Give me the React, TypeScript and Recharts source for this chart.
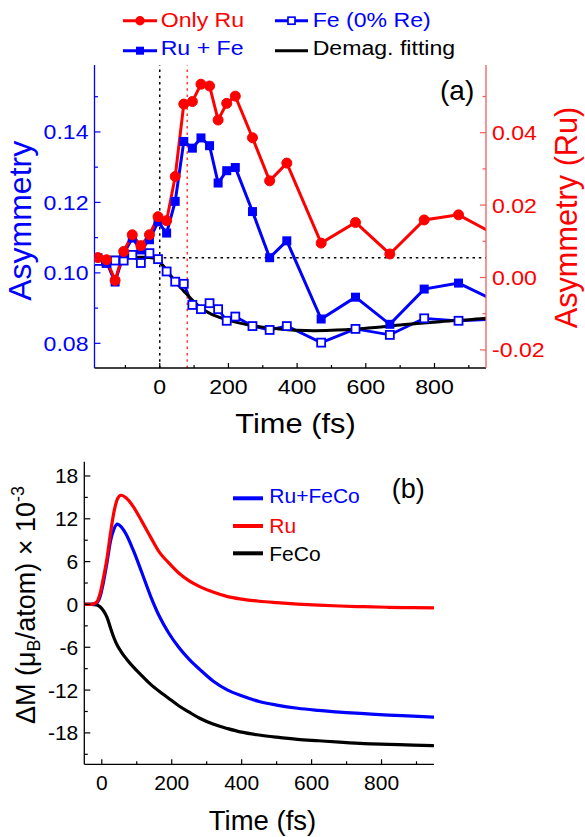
import React from "react";
import { LineChart, Line, XAxis, YAxis, ReferenceLine } from "recharts";

const FONT = "'Liberation Sans', Arial, Helvetica, sans-serif";
const BLUE = "#0000ff";
const RED = "#ff0000";
const PINK = "#f25c5c";

// ---- panel (a): measured asymmetry ----
const TIME_A = [-180, -155, -130, -105, -80, -55, -30, -5, 20, 45, 70, 95, 120, 145, 170, 195, 220, 270, 320, 370, 470, 570, 670, 770, 870, 970];
const ONLY_RU = [0.0055, 0.0049, -0.0008, 0.0072, 0.0118, 0.0088, 0.0118, 0.0168, 0.0157, 0.0279, 0.0479, 0.0486, 0.0534, 0.0529, 0.0435, 0.0481, 0.0501, 0.0386, 0.0267, 0.0316, 0.0095, 0.0152, 0.0065, 0.0159, 0.0173, 0.0122];
const RU_FE = [0.1043, 0.1031, 0.0974, 0.1054, 0.1099, 0.1065, 0.1094, 0.1145, 0.1113, 0.1203, 0.1373, 0.1354, 0.1383, 0.1361, 0.1255, 0.129, 0.1299, 0.1174, 0.1043, 0.1091, 0.0869, 0.0931, 0.0854, 0.0954, 0.0971, 0.0924];
const FE_0RE = [0.1034, 0.1028, 0.1035, 0.1035, 0.1051, 0.1028, 0.1056, 0.1039, 0.1004, 0.0975, 0.0969, 0.0909, 0.0897, 0.0914, 0.0897, 0.0864, 0.0876, 0.0849, 0.0838, 0.0849, 0.0802, 0.0841, 0.0824, 0.0871, 0.0864, 0.0868];

const FIT_TIME = [-190, -100, -40, -20, -10, 0, 10, 20, 30, 40, 50, 60, 70, 80, 90, 100, 115, 130, 150, 170, 200, 230, 260, 300, 350, 400, 450, 500, 550, 600, 650, 700, 750, 800, 850, 900, 950];
const FIT_ASYM = [0.1044, 0.1044, 0.1044, 0.1042, 0.1038, 0.1031, 0.102, 0.1008, 0.0995, 0.0982, 0.097, 0.0959, 0.0948, 0.0938, 0.0928, 0.0918, 0.0905, 0.0894, 0.0883, 0.0875, 0.0866, 0.0858, 0.0852, 0.0846, 0.0841, 0.0837, 0.0836, 0.0837, 0.0839, 0.0843, 0.0847, 0.0852, 0.0856, 0.086, 0.0864, 0.0867, 0.0871];

const A_X_TICKS = [-100, 0, 100, 200, 300, 400, 500, 600, 700, 800, 900];
const A_LEFT_TICKS = [0.08, 0.09, 0.1, 0.11, 0.12, 0.13, 0.14, 0.15];
const A_RIGHT_TICKS = [-0.02, -0.01, 0, 0.01, 0.02, 0.03, 0.04, 0.05];

// ---- panel (b): calculated dM ----
const TIME_B = [-50, -30, -15, -5, 5, 15, 25, 35, 45, 55, 70, 90, 115, 140, 165, 190, 220, 250, 280, 320, 360, 400, 450, 500, 560, 620, 680, 750, 820, 890, 950];
const DM_RUFECO = [0, 0, 0.2, 1.07, 3.2, 5.9, 8.9, 10.6, 11.25, 10.9, 9.8, 7.6, 4.4, 1.1, -1.7, -3.9, -6.0, -7.7, -9.1, -10.8, -12.0, -12.8, -13.6, -14.1, -14.55, -14.85, -15.1, -15.3, -15.5, -15.65, -15.8];
const DM_RU = [0, 0, 0.3, 1.5, 3.8, 6.5, 10.0, 13.0, 14.8, 15.3, 14.9, 13.7, 11.6, 9.4, 7.3, 5.9, 4.4, 3.3, 2.5, 1.7, 1.1, 0.75, 0.45, 0.25, 0.05, -0.1, -0.22, -0.32, -0.4, -0.45, -0.48];
const DM_FECO = [0, 0, -0.05, -0.33, -0.9, -1.8, -3.3, -4.7, -5.8, -6.6, -7.6, -8.75, -10.0, -11.2, -12.2, -13.1, -14.2, -15.1, -15.95, -16.8, -17.4, -17.9, -18.3, -18.6, -18.9, -19.1, -19.3, -19.5, -19.6, -19.7, -19.8];

const B_X_TICKS = [0, 100, 200, 300, 400, 500, 600, 700, 800, 900];
const B_Y_TICKS = [-21, -18, -15, -12, -9, -6, -3, 0, 3, 6, 9, 12, 15, 18];

const zip = (ts: number[], vs: number[]) => ts.map((t, i) => ({ t, v: vs[i] }));

function makeXTick(isMajor: (v: number) => boolean, sx: number) {
  return (p: any) => {
    const { x, y, payload } = p;
    const v = payload.value;
    const major = isMajor(v);
    return (
      <g>
        <line x1={x} x2={x} y1={y} y2={y - (major ? 5 : 3)} stroke="#000" strokeWidth={1.2} />
        {major && (
          <text transform={`translate(${x},${y + 25.5}) scale(${sx},1)`} textAnchor="middle" fontSize={21} fontFamily={FONT} fill="#000">
            {String(v)}
          </text>
        )}
      </g>
    );
  };
}

function makeYTick(side: "left" | "right", isMajor: (v: number) => boolean, fmt: (v: number) => string, color: string, lineColor: string, sx: number) {
  return (p: any) => {
    const { x, y, payload } = p;
    const v = payload.value;
    const major = isMajor(v);
    const dir = side === "left" ? 1 : -1;
    return (
      <g>
        <line x1={x} x2={x + dir * (major ? 6 : 3.5)} y1={y} y2={y} stroke={lineColor} strokeWidth={1.2} />
        {major && (
          <text
            transform={`translate(${x - dir * 6},${y + 7.5}) scale(${sx},1)`}
            textAnchor={side === "left" ? "end" : "start"}
            fontSize={21}
            fontFamily={FONT}
            fill={color}
          >
            {fmt(v)}
          </text>
        )}
      </g>
    );
  };
}

const openSquare = (p: any) =>
  p.cx == null ? <g /> : <rect x={p.cx - 4} y={p.cy - 4} width={8} height={8} fill="#fff" stroke={BLUE} strokeWidth={1.8} />;
const filledSquare = (p: any) =>
  p.cx == null ? <g /> : <rect x={p.cx - 4.5} y={p.cy - 4.5} width={9} height={9} fill={BLUE} />;

const even2 = (v: number) => Math.round(v * 100) % 2 === 0;

function PanelA() {
  return (
    <LineChart width={585} height={837} margin={{ top: 65, right: 0, left: 0, bottom: 397 }}>
      <XAxis
        dataKey="t"
        type="number"
        domain={[-190, 950]}
        allowDataOverflow
        ticks={A_X_TICKS}
        interval={0}
        height={72}
        tickSize={0}
        tickMargin={0}
        stroke="#000"
        strokeWidth={1.3}
        tick={makeXTick((v) => v % 200 === 0, 1.1)}
      />
      <XAxis xAxisId="top" orientation="top" type="number" domain={[-190, 950]} height={0} tick={false} tickLine={false} stroke="#555" strokeWidth={1.3} />
      <YAxis
        yAxisId="left"
        type="number"
        domain={[0.073, 0.159]}
        allowDataOverflow
        ticks={A_LEFT_TICKS}
        interval={0}
        width={94.5}
        tickSize={0}
        tickMargin={0}
        stroke={BLUE}
        strokeWidth={1.3}
        tick={makeYTick("left", even2, (v) => v.toFixed(2), BLUE, BLUE, 1.1)}
      />
      <YAxis
        yAxisId="right"
        orientation="right"
        type="number"
        domain={[-0.025, 0.0587]}
        allowDataOverflow
        ticks={A_RIGHT_TICKS}
        interval={0}
        width={99}
        tickSize={0}
        tickMargin={0}
        stroke={PINK}
        strokeWidth={1.3}
        tick={makeYTick("right", even2, (v) => v.toFixed(2), RED, PINK, 1.1)}
      />
      <ReferenceLine yAxisId="left" y={0.1043} stroke="#000" strokeWidth={1.5} strokeDasharray="2.5 3.8" />
      <ReferenceLine yAxisId="left" x={0} stroke="#000" strokeWidth={1.5} strokeDasharray="2.5 3.8" />
      <ReferenceLine yAxisId="left" x={80} stroke="#ff3b3b" strokeWidth={1.5} strokeDasharray="2.5 3.8" />
      <Line yAxisId="left" data={zip(TIME_A, FE_0RE)} dataKey="v" type="linear" stroke={BLUE} strokeWidth={2.8} dot={openSquare} activeDot={false} isAnimationActive={false} />
      <Line yAxisId="left" data={zip(FIT_TIME, FIT_ASYM)} dataKey="v" type="monotone" stroke="#000" strokeWidth={3} dot={false} activeDot={false} isAnimationActive={false} />
      <Line yAxisId="left" data={zip(TIME_A, RU_FE)} dataKey="v" type="linear" stroke={BLUE} strokeWidth={3} dot={filledSquare} activeDot={false} isAnimationActive={false} />
      <Line yAxisId="right" data={zip(TIME_A, ONLY_RU)} dataKey="v" type="linear" stroke={RED} strokeWidth={3} dot={{ r: 5, fill: RED, stroke: RED, strokeWidth: 1 }} activeDot={false} isAnimationActive={false} />
    </LineChart>
  );
}

function PanelB() {
  return (
    <LineChart width={585} height={837} margin={{ top: 461.7, right: 151, left: 0, bottom: 0 }}>
      <XAxis
        dataKey="t"
        type="number"
        domain={[-50, 950]}
        allowDataOverflow
        ticks={B_X_TICKS}
        interval={0}
        height={72.7}
        tickSize={0}
        tickMargin={0}
        stroke="#000"
        strokeWidth={1.3}
        tick={makeXTick((v) => v % 200 === 0, 1)}
      />
      <XAxis xAxisId="top" orientation="top" type="number" domain={[-50, 950]} height={0} tick={false} tickLine={false} stroke="#000" strokeWidth={1.3} />
      <YAxis
        type="number"
        domain={[-22.4, 20]}
        allowDataOverflow
        ticks={B_Y_TICKS}
        interval={0}
        width={84.3}
        tickSize={0}
        tickMargin={0}
        stroke="#000"
        strokeWidth={1.3}
        tick={makeYTick("left", (v) => v % 6 === 0, (v) => String(v), "#000", "#000", 1)}
      />
      <YAxis yAxisId="r" orientation="right" type="number" domain={[0, 1]} width={0} tick={false} tickLine={false} stroke="#000" strokeWidth={1.3} />
      <Line data={zip(TIME_B, DM_FECO)} dataKey="v" type="monotone" stroke="#000" strokeWidth={3.2} dot={false} activeDot={false} isAnimationActive={false} />
      <Line data={zip(TIME_B, DM_RUFECO)} dataKey="v" type="monotone" stroke={BLUE} strokeWidth={3.2} dot={false} activeDot={false} isAnimationActive={false} />
      <Line data={zip(TIME_B, DM_RU)} dataKey="v" type="monotone" stroke={RED} strokeWidth={3.2} dot={false} activeDot={false} isAnimationActive={false} />
    </LineChart>
  );
}

function Overlay() {
  const t = { fontFamily: FONT };
  return (
    <svg width={585} height={837} style={{ position: "absolute", left: 0, top: 0, pointerEvents: "none" }}>
      {/* legend (a) */}
      <line x1={123} x2={157} y1={20.7} y2={20.7} stroke={RED} strokeWidth={3} />
      <circle cx={140} cy={20.7} r={4.7} fill={RED} />
      <text transform="translate(160.7,27) scale(1.1,1)" fontSize={21} fill={RED} {...t}>Only Ru</text>
      <line x1={123} x2={157} y1={50.7} y2={50.7} stroke={BLUE} strokeWidth={3} />
      <rect x={136} y={46.7} width={8} height={8} fill={BLUE} />
      <text transform="translate(160.7,55) scale(1.1,1)" fontSize={21} fill={BLUE} {...t}>Ru + Fe</text>
      <line x1={275} x2={308} y1={20.7} y2={20.7} stroke={BLUE} strokeWidth={3} />
      <rect x={288} y={17.2} width={7} height={7} fill="#fff" stroke={BLUE} strokeWidth={1.7} />
      <text transform="translate(312.7,27) scale(1.1,1)" fontSize={21} fill={BLUE} {...t}>Fe (0% Re)</text>
      <line x1={275} x2={308} y1={50.7} y2={50.7} stroke="#000" strokeWidth={3} />
      <text transform="translate(312.7,55) scale(1.1,1)" fontSize={21} fill="#000" {...t}>Demag. fitting</text>

      <text x={440} y={100} fontSize={28} fill="#000" {...t}>(a)</text>
      <text transform="translate(31,220.8) rotate(-90)" textAnchor="middle" fontSize={32} fill={BLUE} {...t}>Asymmetry</text>
      <text transform="translate(577,217.5) rotate(-90)" textAnchor="middle" fontSize={30.7} fill={RED} {...t}>Asymmetry (Ru)</text>
      <text transform="translate(295.5,433) scale(1.1,1)" textAnchor="middle" fontSize={28} fill="#000" {...t}>Time (fs)</text>

      {/* legend (b) */}
      <line x1={233} x2={263} y1={498.3} y2={498.3} stroke={BLUE} strokeWidth={4} />
      <text x={269.3} y={503} fontSize={21} fill={BLUE} {...t}>Ru+FeCo</text>
      <line x1={233} x2={263} y1={526} y2={526} stroke={RED} strokeWidth={4} />
      <text x={269.3} y={532.7} fontSize={21} fill={RED} {...t}>Ru</text>
      <line x1={233} x2={263} y1={553.3} y2={553.3} stroke="#000" strokeWidth={4} />
      <text x={269.3} y={561} fontSize={21} fill="#000" {...t}>FeCo</text>

      <text x={391.7} y={498} fontSize={27} fill="#000" {...t}>(b)</text>
      <text transform="translate(35,605) rotate(-90)" textAnchor="middle" fontSize={27} fill="#000" {...t}>
        ΔM (μ<tspan fontSize={18} dy={5}>B</tspan>
        <tspan dy={-5}>/atom) × 10</tspan>
        <tspan fontSize={18} dy={-11}>-3</tspan>
      </text>
      <text x={262.5} y={829.5} textAnchor="middle" fontSize={27.5} fill="#000" {...t}>Time (fs)</text>
    </svg>
  );
}

export default function App() {
  return (
    <div style={{ position: "absolute", left: 0, top: 0, width: 585, height: 837, background: "#fff", fontFamily: FONT }}>
      <div style={{ position: "absolute", left: 0, top: 0 }}>
        <PanelA />
      </div>
      <div style={{ position: "absolute", left: 0, top: 0 }}>
        <PanelB />
      </div>
      <Overlay />
    </div>
  );
}
